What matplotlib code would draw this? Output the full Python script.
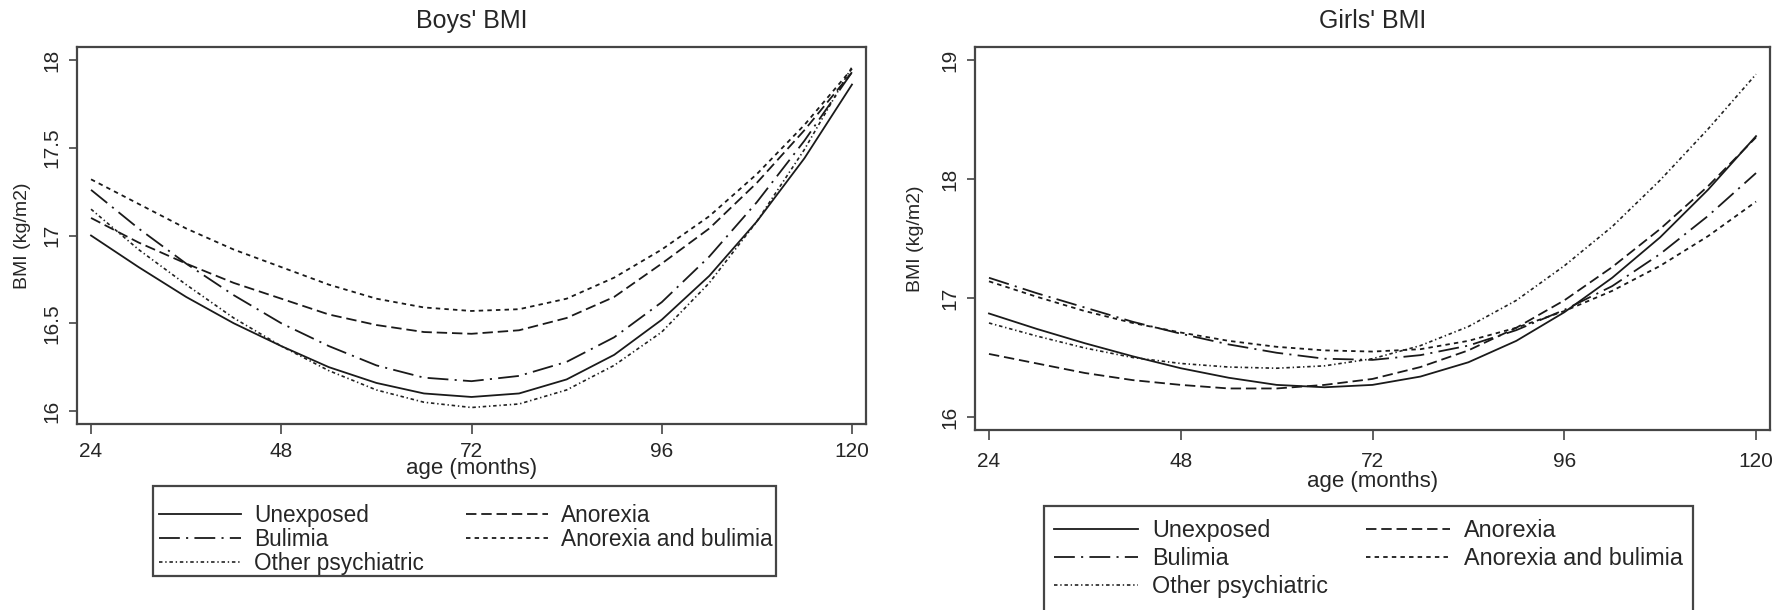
#!/usr/bin/env python3
"""Boys' and girls' BMI trajectories by maternal eating disorder exposure"""

import matplotlib
matplotlib.use('Agg')
import matplotlib.pyplot as plt
from matplotlib.patches import Rectangle

plt.rcParams['font.family'] = ['Liberation Sans', 'DejaVu Sans']
plt.rcParams['lines.scale_dashes'] = False

# age in months
AGES = [24, 30, 36, 42, 48, 54, 60, 66, 72, 78, 84, 90, 96, 102, 108, 114, 120]

# BMI (kg/m2)
BOYS = {
    'Unexposed':            [17.00, 16.82, 16.65, 16.50, 16.37, 16.25, 16.16, 16.10, 16.08, 16.10, 16.18, 16.32, 16.52, 16.77, 17.08, 17.44, 17.86],
    'Anorexia':             [17.10, 16.96, 16.84, 16.73, 16.64, 16.55, 16.49, 16.45, 16.44, 16.46, 16.53, 16.65, 16.84, 17.04, 17.30, 17.60, 17.93],
    'Bulimia':              [17.26, 17.04, 16.84, 16.66, 16.50, 16.37, 16.26, 16.19, 16.17, 16.20, 16.28, 16.42, 16.62, 16.88, 17.19, 17.54, 17.93],
    'Anorexia and bulimia': [17.32, 17.18, 17.04, 16.92, 16.82, 16.72, 16.64, 16.59, 16.57, 16.58, 16.64, 16.76, 16.92, 17.11, 17.35, 17.63, 17.95],
    'Other psychiatric':    [17.15, 16.92, 16.72, 16.53, 16.37, 16.23, 16.12, 16.05, 16.02, 16.04, 16.12, 16.26, 16.45, 16.73, 17.08, 17.49, 17.96],
}
GIRLS = {
    'Unexposed':            [16.87, 16.74, 16.62, 16.51, 16.41, 16.33, 16.27, 16.25, 16.27, 16.34, 16.46, 16.64, 16.88, 17.17, 17.51, 17.91, 18.36],
    'Anorexia':             [16.53, 16.45, 16.37, 16.31, 16.27, 16.24, 16.24, 16.27, 16.32, 16.42, 16.56, 16.75, 16.98, 17.26, 17.58, 17.94, 18.35],
    'Bulimia':              [17.17, 17.04, 16.92, 16.80, 16.70, 16.61, 16.54, 16.49, 16.48, 16.52, 16.60, 16.73, 16.90, 17.10, 17.37, 17.69, 18.05],
    'Anorexia and bulimia': [17.14, 17.01, 16.89, 16.79, 16.71, 16.64, 16.59, 16.56, 16.55, 16.57, 16.64, 16.75, 16.89, 17.06, 17.27, 17.52, 17.81],
    'Other psychiatric':    [16.79, 16.68, 16.58, 16.50, 16.45, 16.42, 16.41, 16.43, 16.49, 16.60, 16.76, 16.98, 17.27, 17.60, 17.99, 18.42, 18.88],
}

XTICKS = [24, 48, 72, 96, 120]
BOYS_YTICKS = [16, 16.5, 17, 17.5, 18]
BOYS_YLABELS = ['16', '16.5', '17', '17.5', '18']
GIRLS_YTICKS = [16, 17, 18, 19]
GIRLS_YLABELS = ['16', '17', '18', '19']

# legend order (column-wise fill for 2 columns)
LEGEND_ORDER = ['Unexposed', 'Bulimia', 'Other psychiatric', 'Anorexia', 'Anorexia and bulimia']

STYLES = {
    'Unexposed':            dict(linestyle='-', color='#1a1a1a', lw=1.3),
    'Anorexia':             dict(linestyle=(0, (7.5, 3.5)), color='#1a1a1a', lw=1.3),
    'Bulimia':              dict(linestyle=(0, (15, 4.5, 1.5, 4.5)), color='#1a1a1a', lw=1.3),
    'Anorexia and bulimia': dict(linestyle=(0, (3.2, 3.0)), color='#1a1a1a', lw=1.3),
    'Other psychiatric':    dict(linestyle=(0, (2.5, 2.0, 1.0, 2.0)), color='#222222', lw=1.2),
}

TEXT = '#262626'
FRAME = '#454545'

W, H = 1782, 610
fig = plt.figure(figsize=(W / 100, H / 100), dpi=100)


def px_axes(left, top, right, bottom):
    return fig.add_axes([left / W, 1 - bottom / H, (right - left) / W, (bottom - top) / H])


def draw_panel(ax, data, title, yticks, ylabels, xlim, ylim, ylab_x, xlab_y, xpad):
    for name in LEGEND_ORDER:
        ax.plot(AGES, data[name], label=name, **STYLES[name])
    ax.set_xlim(*xlim)
    ax.set_ylim(*ylim)
    ax.set_xticks(XTICKS)
    ax.set_xticklabels([str(t) for t in XTICKS])
    ax.set_yticks(yticks)
    ax.set_yticklabels(ylabels, rotation=90, va='center')
    ax.tick_params(axis='x', length=7, width=1.2, pad=xpad, labelsize=15,
                   color=FRAME, labelcolor=TEXT)
    ax.tick_params(axis='y', length=5.5, width=1.2, pad=6, labelsize=15,
                   color=FRAME, labelcolor=TEXT)
    for s in ax.spines.values():
        s.set_linewidth(1.6)
        s.set_color(FRAME)
    ax.set_title(title, fontsize=18, color=TEXT, pad=14)
    ax.set_xlabel('age (months)', fontsize=16, color=TEXT)
    ax.xaxis.set_label_coords(0.5, xlab_y)
    ax.set_ylabel('BMI (kg/m2)', fontsize=14, color=TEXT)
    ax.yaxis.set_label_coords(ylab_x, 0.5)


ax1 = px_axes(77, 47, 866, 424)
draw_panel(ax1, BOYS, "Boys' BMI", BOYS_YTICKS, BOYS_YLABELS,
           (22.23, 121.77), (15.926, 18.074), -0.058, -0.09, 6)

ax2 = px_axes(975, 47, 1770, 430)
draw_panel(ax2, GIRLS, "Girls' BMI", GIRLS_YTICKS, GIRLS_YLABELS,
           (22.25, 121.75), (15.891, 19.109), -0.064, -0.106, 8.5)


def add_legend(ax, box, first_top, text_left, text_right, size, spacing):
    # box = (left, top, right, bottom) of the legend frame, in pixels
    left, top, right, bottom = box
    fig.patches.append(Rectangle((left / W, 1 - bottom / H), (right - left) / W,
                                 (bottom - top) / H, transform=fig.transFigure,
                                 fill=False, ec=FRAME, lw=1.6))
    handles, labels = ax.get_legend_handles_labels()
    leg = fig.legend(handles, labels, ncol=2, loc='upper left', mode='expand',
                     bbox_to_anchor=(text_left / W, 1 - first_top / H - 0.3,
                                     (text_right - text_left) / W, 0.3),
                     borderaxespad=0, fontsize=size, handlelength=3.6, handletextpad=0.6,
                     labelspacing=spacing, borderpad=0, frameon=False)
    for t in leg.get_texts():
        t.set_color(TEXT)
    return leg


add_legend(ax1, (153, 486, 776, 576), 504, 159, 773, 16.3, 0.05)
add_legend(ax2, (1044, 506, 1693, 614), 519, 1054, 1683, 16.8, 0.21)

plt.savefig('out.png', dpi=100)
print('Saved out.png')
